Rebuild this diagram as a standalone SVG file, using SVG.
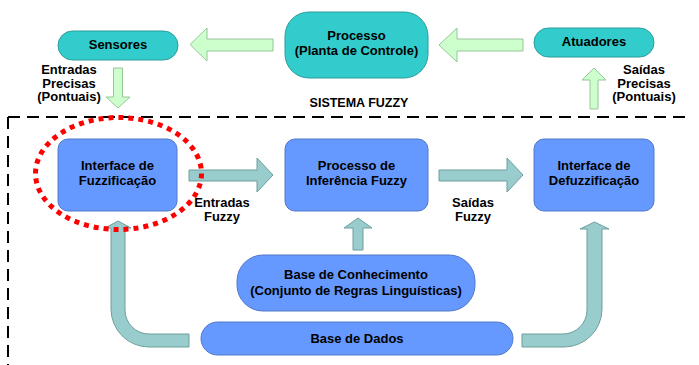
<svg xmlns="http://www.w3.org/2000/svg" width="699" height="365" viewBox="0 0 699 365">
  <style>
    .txt { font-family: "Liberation Sans", Arial, sans-serif; font-weight: bold; font-size: 13px; fill: #000; text-anchor: middle; }
    .teal { fill: #33cccc; stroke: #2c9c9c; stroke-width: 1; }
    .blue { fill: #6699ff; stroke: #5078c8; stroke-width: 1; }
    .green-arrow { fill: #ccffcc; stroke: #99c499; stroke-width: 1; }
    .flow-arrow { fill: #99cccc; stroke: #6e9e9e; stroke-width: 1; }
  </style>
  <rect width="699" height="365" fill="#ffffff"/>

  <!-- fuzzy system boundary -->
  <g id="boundary" fill="none" stroke="#000" stroke-width="2" stroke-dasharray="12 7">
    <line x1="8" y1="117" x2="692" y2="117"/>
    <line x1="8" y1="117" x2="8" y2="365"/>
  </g>
  <text class="txt" x="359" y="107" style="font-size:12.5px">SISTEMA FUZZY</text>

  <!-- connectors -->
  <g id="connectors">
    <polygon class="green-arrow" points="190,44.5 207,28 207,39 273,39 273,51 207,51 207,61"/>
    <polygon class="green-arrow" points="439,45 457,28 457,39 523,39 523,51 457,51 457,62"/>
    <polygon class="green-arrow" points="113.5,68 122.5,68 122.5,97 130,97 118,108 106,97 113.5,97"/>
    <polygon class="green-arrow" points="594,68 606,80 598,80 598,109 590,109 590,80 582,80"/>
    <polygon class="flow-arrow" points="189,170 257,170 257,158 273,175 257,192 257,181 189,181"/>
    <polygon class="flow-arrow" points="439,170 507,170 507,158 523,175 507,192 507,181 439,181"/>
    <polygon class="flow-arrow" points="358,218 372,228 363,228 363,250 353,250 353,228 344,228"/>
    <path class="flow-arrow" d="M189,334 L149,334 A24,24 0 0 1 125,310 L125,228 L131,228 L118,221 L105,228 L111,228 L111,309 A38,38 0 0 0 149,347 L189,347 Z"/>
    <path class="flow-arrow" d="M522,334 L563,334 A24,24 0 0 0 587,310 L587,229 L580,229 L594.5,222 L609,229 L602,229 L602,309 A38,38 0 0 1 564,347 L522,347 Z"/>
  </g>

  <!-- connector labels -->
  <g id="labels">
    <text class="txt" x="69" y="74">Entradas</text>
    <text class="txt" x="69" y="87.5">Precisas</text>
    <text class="txt" x="69" y="101">(Pontuais)</text>
    <text class="txt" x="644" y="74">Saídas</text>
    <text class="txt" x="644" y="87.5">Precisas</text>
    <text class="txt" x="644" y="101">(Pontuais)</text>
    <text class="txt" x="222" y="207">Entradas</text>
    <text class="txt" x="222" y="220.5">Fuzzy</text>
    <text class="txt" x="473" y="207">Saídas</text>
    <text class="txt" x="473" y="220.5">Fuzzy</text>
  </g>

  <g id="sensores">
    <rect class="teal" x="58" y="31" width="120" height="29" rx="14.5"/>
    <text class="txt" x="118" y="48.5">Sensores</text>
  </g>
  <g id="processo">
    <rect class="teal" x="285" y="12" width="143" height="66" rx="24"/>
    <text class="txt" x="356.5" y="39.5">Processo</text>
    <text class="txt" x="356.5" y="54.5">(Planta de Controle)</text>
  </g>
  <g id="atuadores">
    <rect class="teal" x="534" y="28" width="120" height="29" rx="14.5"/>
    <text class="txt" x="594" y="45.5">Atuadores</text>
  </g>

  <g id="fuzzificacao">
    <rect class="blue" x="58" y="139" width="119" height="72" rx="10"/>
    <text class="txt" x="117.5" y="169.5">Interface de</text>
    <text class="txt" x="117.5" y="185">Fuzzificação</text>
  </g>
  <g id="inferencia">
    <rect class="blue" x="285" y="139" width="143" height="72" rx="10"/>
    <text class="txt" x="356.5" y="169.5">Processo de</text>
    <text class="txt" x="356.5" y="185">Inferência Fuzzy</text>
  </g>
  <g id="defuzzificacao">
    <rect class="blue" x="534" y="139" width="120" height="72" rx="10"/>
    <text class="txt" x="594" y="169.5">Interface de</text>
    <text class="txt" x="594" y="185">Defuzzificação</text>
  </g>
  <g id="base-conhecimento">
    <rect class="blue" x="237" y="255" width="238" height="56" rx="26"/>
    <text class="txt" x="356" y="278.5">Base de Conhecimento</text>
    <text class="txt" x="356" y="294.5">(Conjunto de Regras Linguísticas)</text>
  </g>
  <g id="base-dados">
    <rect class="blue" x="201" y="322" width="312" height="33" rx="16.5"/>
    <text class="txt" x="357" y="342.5">Base de Dados</text>
  </g>

  <!-- highlight around the fuzzification stage -->
  <ellipse id="destaque" cx="118.5" cy="173.5" rx="83" ry="56" fill="none" stroke="#ff0000" stroke-width="5" stroke-dasharray="5 5"/>
</svg>
